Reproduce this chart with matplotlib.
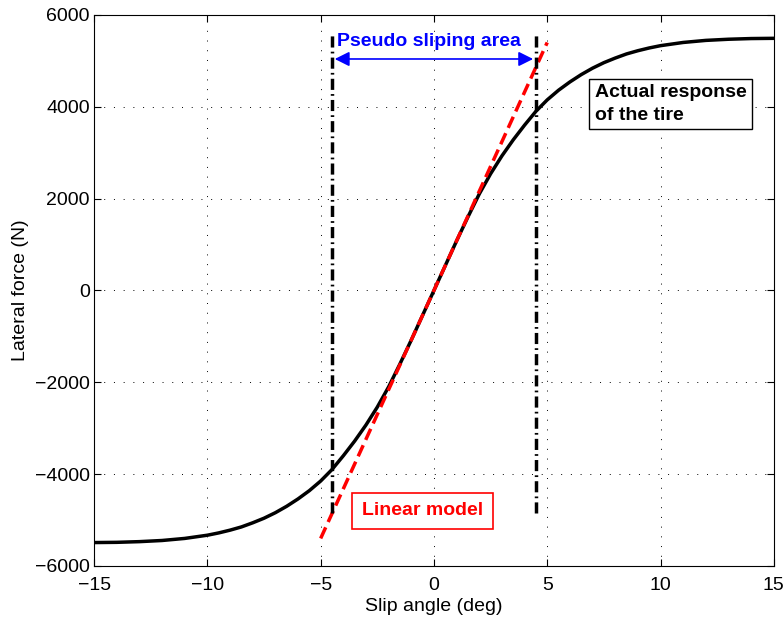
import matplotlib
matplotlib.use("Agg")
import matplotlib.pyplot as plt

plt.rcParams['font.family'] = ['Liberation Sans', 'DejaVu Sans']

# tire curve (symmetric)
slip_pos = [0, 0.5, 1, 1.5, 2, 2.5, 3, 3.5, 4, 4.5, 5, 5.5, 6, 6.5, 7, 7.5, 8, 8.5, 9, 9.5,
            10, 11, 12, 13, 14, 15]
force_pos = [0, 540, 1080, 1600, 2100, 2540, 2930, 3280, 3600, 3900, 4150, 4360, 4540, 4700,
             4840, 4960, 5060, 5150, 5220, 5280, 5330, 5400, 5445, 5470, 5485, 5490]
slip = [-s for s in slip_pos[:0:-1]] + slip_pos
force = [-f for f in force_pos[:0:-1]] + force_pos

# linear model
lin_slip = [-5, 5]
lin_force = [-5400, 5400]

# pseudo sliping area bounds
area_x = [-4.5, 4.5]
area_y = [-4850, 5560]

fig = plt.figure(figsize=(7.84, 6.21), dpi=100)
ax = fig.add_axes([0.12, 0.0886, 0.867, 0.8874])

ax.plot(slip, force, color='black', lw=2.5, solid_joinstyle='round')
ax.plot(lin_slip, lin_force, color='red', lw=2.5, ls=(0, (3.5, 1.7)))
for xv in area_x:
    ax.plot([xv, xv], area_y, color='black', lw=2.5, ls=(0, (3.2, 1.2, 0.5, 1.2)))

ax.annotate('', xy=(area_x[0], 5040), xytext=(area_x[1], 5040),
            arrowprops=dict(arrowstyle='<|-|>', color='blue', lw=1.2, mutation_scale=22))
ax.text(-0.2, 5430, 'Pseudo sliping area', color='blue', fontsize=14, fontweight='bold',
        ha='center', va='center')
ax.text(7.1, 4060, 'Actual response\nof the tire', color='black', fontsize=14, fontweight='bold',
        ha='left', va='center', linespacing=1.4,
        bbox=dict(boxstyle='square,pad=0.3', fc='white', ec='black', lw=1))
ax.text(-0.5, -4800, 'Linear model', color='red', fontsize=14, fontweight='bold',
        ha='center', va='center',
        bbox=dict(boxstyle='square,pad=0.5', fc='white', ec='red', lw=1.2))

ax.set_xlim(-15, 15)
ax.set_ylim(-6000, 6000)
ax.set_xticks(range(-15, 16, 5))
ax.set_yticks(range(-6000, 6001, 2000))
ax.set_xticklabels(['\u221215', '\u221210', '\u22125', '0', '5', '10', '15'])
ax.set_yticklabels(['\u22126000', '\u22124000', '\u22122000', '0', '2000', '4000', '6000'])
ax.tick_params(direction='in', labelsize=14, length=5, top=True, right=True)
ax.tick_params(axis='x', pad=8)
ax.tick_params(axis='y', pad=3)
ax.grid(True, ls=(0, (1, 9)), color='black', lw=0.7)
ax.set_xlabel('Slip angle (deg)', fontsize=14, labelpad=3)
ax.set_ylabel('Lateral force (N)', fontsize=14, labelpad=4)

fig.savefig('out.png', dpi=100)
